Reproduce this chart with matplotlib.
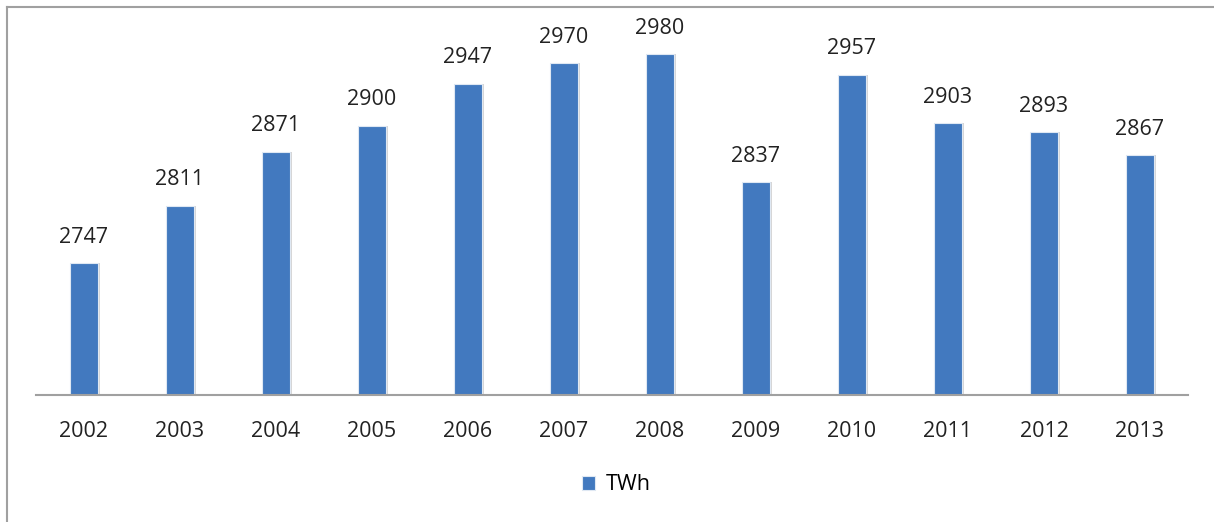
import matplotlib
matplotlib.use('Agg')
import matplotlib.pyplot as plt
from matplotlib.lines import Line2D

years = ['2002', '2003', '2004', '2005', '2006', '2007',
         '2008', '2009', '2010', '2011', '2012', '2013']
twh = [2747, 2811, 2871, 2900, 2947, 2970, 2980, 2837, 2957, 2903, 2893, 2867]

plt.rcParams['font.family'] = ['Open Sans', 'DejaVu Sans']

fig = plt.figure(figsize=(12.14, 5.22), dpi=100)
ax = fig.add_axes([36 / 1214, 127 / 522, 1152 / 1214, 359 / 522])

x = range(len(years))
width = 0.29

# soft shadow on the right of each bar
ax.bar([i + 0.025 for i in x], twh, width=width, color='#d6d6d6', linewidth=0, zorder=1)
bars = ax.bar(x, twh, width=width, color='#4279bf', edgecolor='#dfe8f3', linewidth=0.8,
              label='TWh', zorder=2)

for i, v in enumerate(twh):
    ax.annotate(str(v), (i, v), xytext=(0, 11), textcoords='offset points',
                ha='center', va='bottom', fontsize=15.5, color='#222222')

ax.set_xlim(-0.5, len(years) - 0.5)
ax.set_ylim(2600, 3000)
ax.set_xticks(list(x))
ax.set_xticklabels(years, fontsize=15.5, color='#222222')
ax.tick_params(axis='x', length=0, pad=19)
ax.set_yticks([])

for side in ['top', 'right', 'left']:
    ax.spines[side].set_visible(False)
ax.spines['bottom'].set_color('#a0a0a0')
ax.spines['bottom'].set_linewidth(1.5)

ax.legend(loc='center', bbox_to_anchor=(616 / 1214, 1 - 485 / 522),
          bbox_transform=fig.transFigure, frameon=False, fontsize=15.5,
          handlelength=0.6, handleheight=0.6, handletextpad=0.5)

# outer chart border (left and top edges)
fig.add_artist(Line2D([7 / 1214, 7 / 1214], [0, 1 - 7 / 522], color='#a0a0a0', linewidth=1.5))
fig.add_artist(Line2D([7 / 1214, 1], [1 - 7 / 522, 1 - 7 / 522], color='#a0a0a0', linewidth=1.5))

fig.savefig('out.png', dpi=100)
